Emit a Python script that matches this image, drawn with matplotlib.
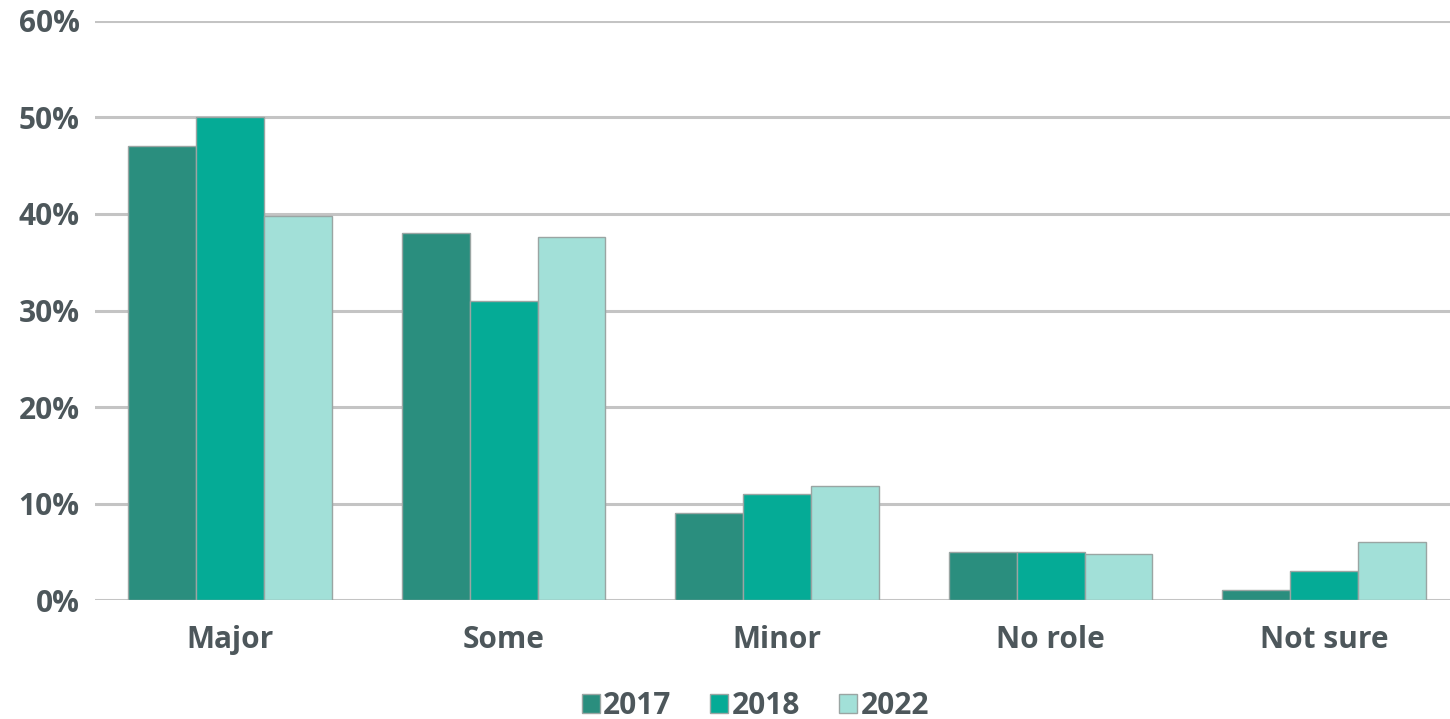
import numpy as np
import matplotlib
matplotlib.use("Agg")
import matplotlib.pyplot as plt

categories = ["Major", "Some", "Minor", "No role", "Not sure"]
years = ["2017", "2018", "2022"]
v2017 = [47, 38, 9, 5, 1]
v2018 = [50, 31, 11, 5, 3]
v2022 = [39.8, 37.6, 11.8, 4.8, 6]
colors = ["#2a8e7e", "#05ab96", "#a2e0d8"]
yticks = [0, 10, 20, 30, 40, 50, 60]

plt.rcParams["font.family"] = ["Open Sans", "DejaVu Sans"]
text_color = "#4d575b"
fsize = 21.5

fig = plt.figure(figsize=(14.5, 7.19), dpi=100)
ax = fig.add_axes([0.0655, 0.1655, 0.9345, 0.8053])

x = np.arange(len(categories))
w = 0.248
for i, (vals, c, lab) in enumerate(zip([v2017, v2018, v2022], colors, years)):
    ax.bar(x + (i - 1) * w, vals, width=w, color=c, edgecolor="#9aa5a3",
           linewidth=1.0, label=lab, zorder=3)

ax.set_ylim(0, 60)
ax.set_xlim(-0.494, 4.46)
ax.set_yticks(yticks)
ax.set_yticklabels([f"{t}%" for t in yticks])
ax.set_xticks(x)
ax.set_xticklabels(categories)
ax.grid(axis="y", color="#c4c4c4", linewidth=2.2, zorder=0)
ax.set_axisbelow(True)
for s in ax.spines.values():
    s.set_visible(False)
ax.tick_params(axis="both", length=0, colors=text_color, labelsize=fsize)
ax.tick_params(axis="y", pad=11)
ax.tick_params(axis="x", pad=18)
for lbl in ax.get_xticklabels() + ax.get_yticklabels():
    lbl.set_fontweight("bold")

leg = fig.legend(loc="lower center", bbox_to_anchor=(0.521, -0.04), ncol=3,
                 frameon=False, handlelength=0.6, handleheight=0.6,
                 handletextpad=0.12, columnspacing=1.3,
                 prop={"size": fsize, "weight": "bold"})
for t in leg.get_texts():
    t.set_color(text_color)

fig.savefig("out.png", dpi=100)
